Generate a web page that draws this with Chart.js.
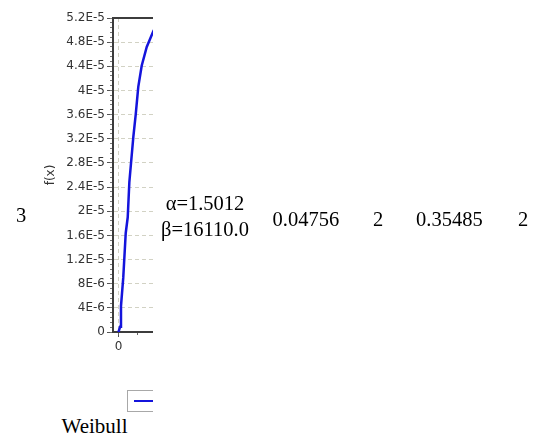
<!DOCTYPE html>
<html>
<head>
<meta charset="utf-8">
<script src="https://cdn.jsdelivr.net/npm/chart.js@4.4.1/dist/chart.umd.min.js"></script>
<style>
  html, body { margin: 0; padding: 0; background: #fff; }
  body { width: 549px; height: 435px; position: relative; overflow: hidden; }
  #chartBox { position: absolute; left: 0; top: 0; width: 153px; height: 435px; overflow: hidden; }
  #pdfChart { position: absolute; left: 0; top: 0; }
  #legendBox { position: absolute; left: 127px; top: 390px; width: 80px; height: 20px;
               border: 1px solid #a8a8a8; background: #fff; }
  #legendBox span { position: absolute; left: 6px; top: 9px; width: 40px; height: 2px; background: #1414dc; }
  .cell { position: absolute; font-family: "Liberation Serif", "Times New Roman", serif;
          font-size: 20.5px; line-height: 1; color: #000; white-space: nowrap; }
</style>
</head>
<body>
<div id="chartBox">
  <canvas id="pdfChart" width="300" height="360"></canvas>
  <div id="legendBox"><span></span></div>
</div>

<div class="cell" style="left:16px; top:205px;">3</div>
<div class="cell" style="left:155px; top:193px; width:100px; text-align:center;">α=1.5012</div>
<div class="cell" style="left:155px; top:218.5px; width:100px; text-align:center;">β=16110.0</div>
<div class="cell" style="left:272.5px; top:208.5px;">0.04756</div>
<div class="cell" style="left:373px; top:208.5px;">2</div>
<div class="cell" style="left:416px; top:208.5px;">0.35485</div>
<div class="cell" style="left:518px; top:208.5px;">2</div>
<div class="cell" style="left:61.5px; top:415.5px; font-size:21px;">Weibull</div>

<script>
// Weibull pdf curve
const xValues = [0, 160, 260, 500, 760, 970, 1140, 1560, 1810, 2080, 2440, 2970, 3660, 4200];
const fValues = [0, 0.86e-6, 4.3e-6, 9.0e-6, 1.64e-5, 1.90e-5, 2.48e-5, 3.23e-5, 3.60e-5, 4.06e-5, 4.41e-5, 4.72e-5, 4.98e-5, 5.14e-5];

const yTickLabels = ['0', '4E-6', '8E-6', '1.2E-5', '1.6E-5', '2E-5', '2.4E-5', '2.8E-5',
                     '3.2E-5', '3.6E-5', '4E-5', '4.4E-5', '4.8E-5', '5.2E-5'];
const xTickValues = [0, 10000];
const xTickLabels = ['0', '10000'];
const xMinorTicks = [0, 2000, 4000, 6000, 8000, 10000, 12000, 14000, 16000, 18000];

const Y_MAX = 5.2e-5;
const X_MIN = -580;
const X_MAX = 19100;

const axisColor = '#3c3c3c';
const gridColor = 'rgba(205,205,190,0.9)';
const tickFont = { family: 'DejaVu Sans', size: 12 };

new Chart(document.getElementById('pdfChart'), {
  type: 'line',
  data: {
    datasets: [{
      label: 'Weibull',
      data: xValues.map((x, i) => ({ x: x, y: fValues[i] })),
      borderColor: '#1414dc',
      borderWidth: 2.5,
      pointRadius: 0,
      tension: 0,
      xAxisID: 'x',
      yAxisID: 'y',
    }],
  },
  options: {
    responsive: false,
    animation: false,
    layout: { padding: 0 },
    plugins: { legend: { display: false }, tooltip: { enabled: false } },
    scales: {
      x: {
        type: 'linear',
        position: 'bottom',
        weight: 1,
        min: X_MIN,
        max: X_MAX,
        afterBuildTicks: s => { s.ticks = xTickValues.map(v => ({ value: v })); },
        afterFit: s => { s.height = 28; },
        ticks: {
          color: '#333',
          font: tickFont,
          padding: 3,
          maxRotation: 0,
          autoSkip: false,
          callback: (v, i) => xTickLabels[i],
        },
        grid: { color: gridColor, tickColor: '#555', tickLength: 5 },
        border: { color: axisColor, width: 2, dash: [4, 3] },
      },
      xMinor: {
        type: 'linear',
        position: 'bottom',
        weight: 0,
        min: X_MIN,
        max: X_MAX,
        afterBuildTicks: s => { s.ticks = xMinorTicks.map(v => ({ value: v })); },
        afterFit: s => { s.height = 0; },
        ticks: { display: false },
        grid: { drawOnChartArea: false, tickColor: '#666', tickLength: 3 },
        border: { display: false },
      },
      x2: {
        type: 'linear',
        position: 'top',
        min: 0,
        max: 1,
        afterFit: s => { s.height = 18; },
        ticks: { display: false },
        grid: { display: false },
        border: { color: axisColor, width: 2 },
      },
      y: {
        type: 'linear',
        position: 'left',
        weight: 1,
        min: 0,
        max: Y_MAX,
        afterFit: s => { s.width = 113; },
        ticks: {
          stepSize: 4e-6,
          color: '#333',
          font: tickFont,
          padding: 2,
          callback: (v, i) => yTickLabels[i],
        },
        title: {
          display: true,
          text: 'f(x)',
          color: '#333',
          font: { family: 'DejaVu Sans', size: 12 },
          padding: { top: 44, bottom: 0 },
        },
        grid: { color: gridColor, tickColor: '#555', tickLength: 6 },
        border: { color: axisColor, width: 2, dash: [4, 3] },
      },
      yMinor: {
        type: 'linear',
        position: 'left',
        weight: 0,
        min: 0,
        max: Y_MAX,
        afterFit: s => { s.width = 0; },
        ticks: { stepSize: 8e-7, display: false },
        grid: { drawOnChartArea: false, tickColor: '#777', tickLength: 3 },
        border: { display: false },
      },
    },
  },
});
</script>
</body>
</html>
